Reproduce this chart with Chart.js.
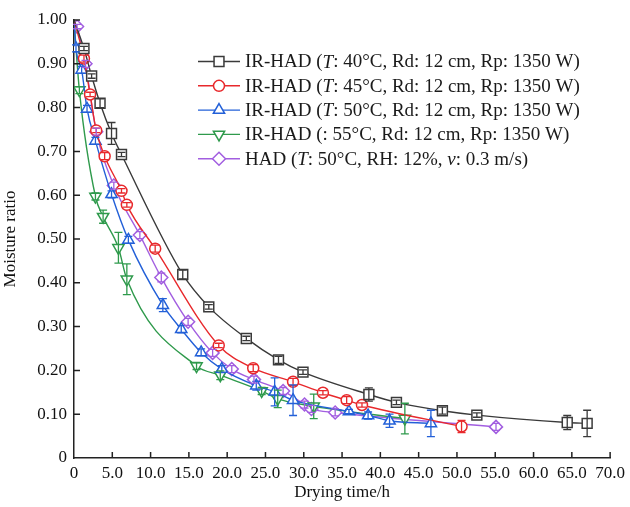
<!DOCTYPE html>
<html>
<head>
<meta charset="utf-8">
<script src="https://cdn.jsdelivr.net/npm/chart.js@4/dist/chart.umd.min.js"></script>
<style>
html,body{margin:0;padding:0;background:#fff;}
#wrap{width:630px;height:507px;}
</style>
</head>
<body>
<div id="wrap"><canvas id="c" width="630" height="507"></canvas></div>
<script>
// ---- data ----
const xTicks = [0,5,10,15,20,25,30,35,40,45,50,55,60,65,70];
const yTicks = [0,0.1,0.2,0.3,0.4,0.5,0.6,0.7,0.8,0.9,1.0];

const t40  = [0,1.3,2.3,3.4,4.9,6.2,14.2,17.6,22.5,26.7,29.9,38.5,42.1,48.1,52.6,64.4,67.0];
const mr40 = [1.0,0.935,0.872,0.81,0.741,0.693,0.419,0.345,0.273,0.224,0.196,0.145,0.127,0.108,0.098,0.081,0.079];
const e40  = [0,0.005,0.005,0.01,0.025,0.005,0.01,0.005,0.005,0.008,0.005,0.015,0.005,0.008,0.005,0.016,0.03];

const t45  = [0,1.3,2.1,2.9,4.0,6.2,6.9,10.6,18.9,23.4,28.6,32.5,35.6,37.6,50.6];
const mr45 = [1.0,0.912,0.83,0.748,0.689,0.61,0.578,0.478,0.257,0.205,0.174,0.149,0.132,0.121,0.072];
const e45  = [0,0.008,0.005,0.005,0.008,0.005,0.005,0.008,0.005,0.008,0.008,0.005,0.008,0.005,0.014];

const t50  = [0,0.26,1.0,1.7,2.8,4.9,7.1,11.6,14.0,16.6,19.3,23.8,26.2,28.6,35.9,38.4,41.2,46.6];
const mr50 = [1.0,0.935,0.886,0.797,0.724,0.602,0.498,0.349,0.294,0.241,0.203,0.165,0.151,0.132,0.106,0.097,0.085,0.079];
const e50  = [0,0.008,0.008,0.008,0.008,0.008,0.008,0.015,0.008,0.008,0.008,0.01,0.032,0.035,0.005,0.008,0.015,0.03];

const t55  = [0,0.7,2.8,3.8,5.8,6.9,16.0,19.1,24.5,26.6,31.3,43.2];
const mr55 = [1.0,0.84,0.597,0.551,0.48,0.408,0.21,0.189,0.153,0.135,0.118,0.09];
const e55  = [0,0.008,0.008,0.015,0.035,0.035,0.008,0.01,0.008,0.02,0.028,0.035];

const tHAD  = [0.4,1.5,2.9,5.2,8.6,11.4,14.9,18.1,20.6,23.5,27.3,30.1,31.0,34.1,55.1];
const mrHAD = [0.985,0.90,0.745,0.622,0.509,0.412,0.311,0.24,0.203,0.179,0.153,0.122,0.112,0.104,0.071];
const eHAD  = [0.005,0.008,0.008,0.008,0.008,0.01,0.008,0.008,0.008,0.008,0.008,0.008,0.008,0.008,0.008];

// legend label parts: [text, italic]
const labels = [
  [["IR-HAD (",0],["T",1],[": 40°C, Rd: 12 cm, Rp: 1350 W)",0]],
  [["IR-HAD (",0],["T",1],[": 45°C, Rd: 12 cm, Rp: 1350 W)",0]],
  [["IR-HAD (",0],["T",1],[": 50°C, Rd: 12 cm, Rp: 1350 W)",0]],
  [["IR-HAD (: 55°C, Rd: 12 cm, Rp: 1350 W)",0]],
  [["HAD (",0],["T",1],[": 50°C, RH: 12%, ",0],["v",1],[": 0.3 m/s)",0]]
];

const FONT = '"Liberation Serif", "DejaVu Serif", serif';

function pts(t, m){ return t.map((v,i)=>({x:v,y:m[i]})); }

const styles = [
  {color:'#3a3a3a', style:'rect', r:7, rot:0},
  {color:'#e8292c', style:'circle', r:5.5, rot:0},
  {color:'#2360d8', style:'triangle', r:6.5, rot:0},
  {color:'#2f9a4c', style:'triangle', r:6.5, rot:180},
  {color:'#a25ee0', style:'rectRot', r:6.5, rot:0}
];
const series = [[t40,mr40,e40],[t45,mr45,e45],[t50,mr50,e50],[t55,mr55,e55],[tHAD,mrHAD,eHAD]];

const datasets = series.map((s,k)=>{
  const st = styles[k];
  return {
    label: labels[k].map(p=>p[0]).join(''),
    data: pts(s[0], s[1]),
    errs: s[2],
    borderColor: st.color,
    borderWidth: 1.4,
    pointStyle: st.style,
    pointRotation: st.rot,
    pointRadius: (ctx)=> (ctx.dataIndex===0 && s[0][0]===0) ? 0 : st.r,
    pointBorderColor: st.color,
    pointBackgroundColor: '#fff',
    pointBorderWidth: 1.5,
    cubicInterpolationMode: 'monotone',
    fill: false
  };
});

const errorBars = {
  id:'errorBars',
  afterDatasetsDraw(chart){
    const ctx = chart.ctx, xs = chart.scales.x, ys = chart.scales.y;
    ctx.save();
    chart.data.datasets.forEach((ds)=>{
      ctx.strokeStyle = ds.borderColor; ctx.lineWidth = 1.3;
      ds.data.forEach((p,i)=>{
        const e = ds.errs[i]; if(!e) return;
        const x = xs.getPixelForValue(p.x);
        const y1 = ys.getPixelForValue(p.y+e), y2 = ys.getPixelForValue(p.y-e);
        ctx.beginPath();
        ctx.moveTo(x,y1); ctx.lineTo(x,y2);
        ctx.moveTo(x-4,y1); ctx.lineTo(x+4,y1);
        ctx.moveTo(x-4,y2); ctx.lineTo(x+4,y2);
        ctx.stroke();
      });
    });
    ctx.restore();
  }
};

const innerTicks = {
  id:'innerTicks',
  afterDraw(chart){
    const ctx = chart.ctx, xs = chart.scales.x, ys = chart.scales.y, a = chart.chartArea;
    ctx.save(); ctx.strokeStyle = '#222'; ctx.lineWidth = 1.5;
    ctx.beginPath();
    xTicks.forEach(v=>{ const x = xs.getPixelForValue(v); if (v===0) return; ctx.moveTo(x,a.bottom); ctx.lineTo(x,a.bottom-6); });
    yTicks.forEach(v=>{ const y = ys.getPixelForValue(v); if (v===0) return; ctx.moveTo(a.left,y); ctx.lineTo(a.left+6,y); });
    ctx.stroke();
    ctx.restore();
  }
};

function drawMarker(ctx, st, x, y){
  ctx.save();
  ctx.strokeStyle = st.color; ctx.fillStyle = '#fff'; ctx.lineWidth = 1.5;
  ctx.beginPath();
  const r = st.r;
  if (st.style==='rect'){ const s=r*Math.SQRT1_2; ctx.rect(x-s,y-s,2*s,2*s); }
  else if (st.style==='circle'){ ctx.arc(x,y,r,0,Math.PI*2); }
  else if (st.style==='rectRot'){ ctx.moveTo(x,y-r); ctx.lineTo(x+r,y); ctx.lineTo(x,y+r); ctx.lineTo(x-r,y); ctx.closePath(); }
  else if (st.style==='triangle'){
    const rot = st.rot*Math.PI/180;
    for (let i=0;i<3;i++){ const ang = rot - Math.PI/2 + i*2*Math.PI/3; const px=x+Math.cos(ang)*r, py=y+Math.sin(ang)*r; if(i===0) ctx.moveTo(px,py); else ctx.lineTo(px,py);} ctx.closePath();
  }
  ctx.fill(); ctx.stroke();
  ctx.restore();
}

const customLegend = {
  id:'customLegend',
  afterDraw(chart){
    const ctx = chart.ctx;
    ctx.save();
    const x0 = 198, x1 = 240, tx = 245, y0 = 61.5, dy = 24.3;
    labels.forEach((parts,k)=>{
      const st = styles[k]; const y = y0 + k*dy;
      ctx.strokeStyle = st.color; ctx.lineWidth = 1.4;
      ctx.beginPath(); ctx.moveTo(x0,y); ctx.lineTo(x1,y); ctx.stroke();
      drawMarker(ctx, st, (x0+x1)/2, y);
      let x = tx;
      ctx.fillStyle = '#1a1a1a'; ctx.textBaseline = 'middle'; ctx.textAlign='left';
      parts.forEach(p=>{
        ctx.font = (p[1] ? 'italic ' : '') + '19px ' + FONT;
        ctx.fillText(p[0], x, y+1);
        x += ctx.measureText(p[0]).width;
      });
    });
    ctx.restore();
  }
};

new Chart(document.getElementById('c'), {
  type:'line',
  data:{datasets},
  plugins:[errorBars, innerTicks, customLegend],
  options:{
    responsive:false,
    animation:false,
    layout:{padding:{left:0,right:19,top:20,bottom:0}},
    plugins:{legend:{display:false}, tooltip:{enabled:false}},
    scales:{
      x:{
        type:'linear', min:0, max:70,
        afterBuildTicks(s){ s.ticks = xTicks.map(v=>({value:v})); },
        afterFit(s){ s.height = 49; },
        grid:{display:false, drawTicks:false},
        border:{display:true, color:'#222', width:1.5},
        ticks:{padding:5, color:'#111', font:{family:FONT, size:17}, maxRotation:0, autoSkip:false,
          callback:(v)=> v===0 ? '0' : Number(v).toFixed(1)},
        title:{display:true, text:'Drying time/h', color:'#111', font:{family:FONT, size:17}, padding:{top:0,bottom:4}}
      },
      y:{
        type:'linear', min:0, max:1.0,
        afterBuildTicks(s){ s.ticks = yTicks.map(v=>({value:v})); },
        afterFit(s){ s.width = 74; },
        grid:{display:false, drawTicks:false},
        border:{display:true, color:'#222', width:1.5},
        ticks:{padding:7, color:'#111', font:{family:FONT, size:17}, autoSkip:false,
          callback:(v)=> v===0 ? '0' : Number(v).toFixed(2)},
        title:{display:true, text:'Moisture ratio', color:'#111', font:{family:FONT, size:17}, padding:{top:0,bottom:0}}
      }
    }
  }
});
</script>
</body>
</html>
